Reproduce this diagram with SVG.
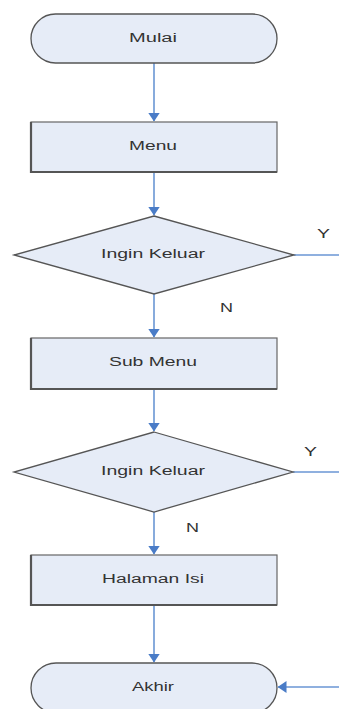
<svg xmlns="http://www.w3.org/2000/svg" width="339" height="709" viewBox="0 0 339 709">
<defs>
<marker id="ah" markerWidth="9" markerHeight="12" refX="8.5" refY="6" orient="auto" markerUnits="userSpaceOnUse"><path d="M0,0 L9,6 L0,12 Z" fill="#4a7cc7"/></marker>
<style>
.shape{fill:#e6ecf7;stroke:#555;stroke-width:1.3}
.box{fill:#e6ecf7;stroke:#666;stroke-width:1.2}
.edge{fill:none;stroke:#555;stroke-width:2.2}
.lbl{font-family:"Liberation Sans",Arial,sans-serif;font-size:12px;fill:#333;text-anchor:middle}
.con{stroke:#6a96d4;stroke-width:1.6;fill:none}
</style>
</defs>
<rect width="339" height="709" fill="#fff"/>
<g id="connectors">
<line class="con" x1="154" y1="63" x2="154" y2="121" marker-end="url(#ah)"/>
<line class="con" x1="154" y1="172" x2="154" y2="215" marker-end="url(#ah)"/>
<line class="con" x1="294" y1="255" x2="339" y2="255"/>
<line class="con" x1="154" y1="294" x2="154" y2="337" marker-end="url(#ah)"/>
<line class="con" x1="154" y1="389" x2="154" y2="431" marker-end="url(#ah)"/>
<line class="con" x1="293" y1="472" x2="339" y2="472"/>
<line class="con" x1="154" y1="512" x2="154" y2="554" marker-end="url(#ah)"/>
<line class="con" x1="154" y1="605" x2="154" y2="662" marker-end="url(#ah)"/>
<line class="con" x1="339" y1="687" x2="278" y2="687" marker-end="url(#ah)"/>
<text class="lbl" x="323.5" y="238" textLength="13" lengthAdjust="spacingAndGlyphs">Y</text>
<text class="lbl" x="226.5" y="312" textLength="13" lengthAdjust="spacingAndGlyphs">N</text>
<text class="lbl" x="310.5" y="456" textLength="13" lengthAdjust="spacingAndGlyphs">Y</text>
<text class="lbl" x="192.5" y="532" textLength="13" lengthAdjust="spacingAndGlyphs">N</text>
</g>
<g id="mulai">
<rect class="shape" x="31" y="14" width="246" height="49" rx="24.5" ry="24.5"/>
<text class="lbl" x="153" y="42" textLength="48" lengthAdjust="spacingAndGlyphs">Mulai</text>
</g>
<g id="menu">
<rect class="box" x="31" y="122" width="246" height="50"/>
<polyline class="edge" points="31,122 31,172 277,172"/>
<text class="lbl" x="153" y="150" textLength="48" lengthAdjust="spacingAndGlyphs">Menu</text>
</g>
<g id="keluar1">
<polygon class="shape" points="154,216 294,255 154,294 14,255"/>
<text class="lbl" x="153" y="258" textLength="104" lengthAdjust="spacingAndGlyphs">Ingin Keluar</text>
</g>
<g id="submenu">
<rect class="box" x="31" y="338" width="246" height="51"/>
<polyline class="edge" points="31,338 31,389 277,389"/>
<text class="lbl" x="153" y="366" textLength="88" lengthAdjust="spacingAndGlyphs">Sub Menu</text>
</g>
<g id="keluar2">
<polygon class="shape" points="154,432 293,472 154,512 14,472"/>
<text class="lbl" x="153" y="475" textLength="104" lengthAdjust="spacingAndGlyphs">Ingin Keluar</text>
</g>
<g id="halaman">
<rect class="box" x="31" y="555" width="246" height="50"/>
<polyline class="edge" points="31,555 31,605 277,605"/>
<text class="lbl" x="153" y="583" textLength="102" lengthAdjust="spacingAndGlyphs">Halaman Isi</text>
</g>
<g id="akhir">
<rect class="shape" x="31" y="663" width="246" height="50" rx="25" ry="25"/>
<text class="lbl" x="153" y="691" textLength="42" lengthAdjust="spacingAndGlyphs">Akhir</text>
</g>
</svg>
